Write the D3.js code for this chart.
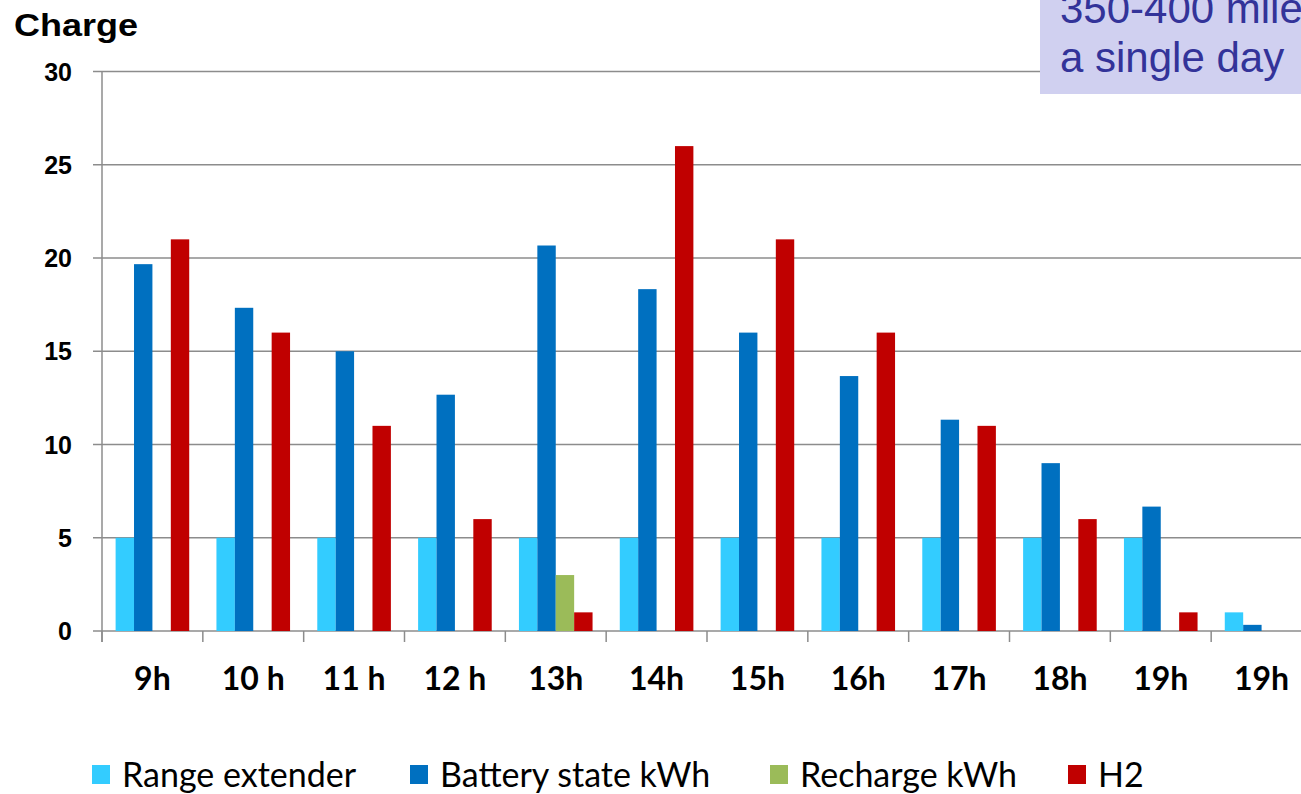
<!DOCTYPE html>
<html>
<head>
<meta charset="utf-8">
<script src="https://cdn.jsdelivr.net/npm/d3@7"></script>
<style>
  body { margin: 0; background: #fff; }
  svg { display: block; }
</style>
</head>
<body>
<svg id="chart" width="1301" height="794"></svg>
<script>
// chart data
var hours = ["9h", "10 h", "11 h", "12 h", "13h", "14h", "15h", "16h", "17h", "18h", "19h", "19h "];
var rangeExtender = [5, 5, 5, 5, 5, 5, 5, 5, 5, 5, 5, 1];
var batteryState = [19.67, 17.33, 15, 12.67, 20.67, 18.33, 16, 13.67, 11.33, 9, 6.67, 0.33];
var rechargeKwh = [0, 0, 0, 0, 3, 0, 0, 0, 0, 0, 0, 0];
var h2 = [21, 16, 11, 6, 1, 26, 21, 16, 11, 6, 1, 0];
var seriesNames = ["Range extender", "Battery state kWh", "Recharge kWh", "H2"];
var seriesColors = ["#33CCFF", "#0070C0", "#9BBB59", "#C00000"];
var yTicks = [0, 5, 10, 15, 20, 25, 30];

var svg = d3.select("#chart");
var plotLeft = 102, plotRight = 1312, plotTop = 71.5, plotBottom = 631;
var gridColor = "#8c8c8c";

var x0 = d3.scaleBand().domain(hours).range([plotLeft, plotRight])
		.paddingInner(0.27).paddingOuter(0.135);
var x1 = d3.scaleBand().domain(seriesNames).range([0, x0.bandwidth()]);
var y = d3.scaleLinear().domain([0, 30]).range([plotBottom, plotTop]);

// gridlines
svg.append("g").selectAll("line").data(yTicks).join("line")
	.attr("x1", plotLeft - 9).attr("x2", 1301)
	.attr("y1", d => y(d)).attr("y2", d => y(d))
	.attr("stroke", gridColor).attr("stroke-width", 1.5);

// y axis line
svg.append("line").attr("x1", plotLeft).attr("x2", plotLeft)
	.attr("y1", plotTop).attr("y2", plotBottom + 11)
	.attr("stroke", gridColor).attr("stroke-width", 1.5);

// category ticks
var step = x0.step();
svg.append("g").selectAll("line").data(d3.range(hours.length + 1)).join("line")
	.attr("x1", i => plotLeft + i * step).attr("x2", i => plotLeft + i * step)
	.attr("y1", plotBottom).attr("y2", plotBottom + 11)
	.attr("stroke", gridColor).attr("stroke-width", 1.5);

// bars
var all = [rangeExtender, batteryState, rechargeKwh, h2];
var groups = svg.append("g").selectAll("g").data(hours).join("g")
	.attr("transform", d => "translate(" + x0(d) + ",0)");
groups.selectAll("rect")
	.data((d, i) => seriesNames.map((s, k) => ({ s: s, v: all[k][i], c: seriesColors[k] })))
	.join("rect")
	.attr("x", d => x1(d.s))
	.attr("width", x1.bandwidth())
	.attr("y", d => y(d.v))
	.attr("height", d => plotBottom - y(d.v))
	.attr("fill", d => d.c);

// y tick labels
svg.append("g").selectAll("text").data(yTicks).join("text")
	.attr("x", 72).attr("y", d => y(d) + 9)
	.attr("text-anchor", "end")
	.attr("font-family", "Liberation Sans, Arial, sans-serif")
	.attr("font-weight", "bold").attr("font-size", 25)
	.text(d => d);

// x labels
svg.append("g").selectAll("text").data(hours).join("text")
	.attr("x", d => x0(d) + x0.bandwidth() / 2)
	.attr("y", 690)
	.attr("text-anchor", "middle")
	.attr("font-family", "Lato, Open Sans, sans-serif")
	.attr("font-weight", "bold").attr("font-size", 32)
	.text(d => d.trim());

// axis title
svg.append("text").attr("x", 14).attr("y", 36)
	.attr("font-family", "Liberation Sans, Arial, sans-serif")
	.attr("font-weight", "bold").attr("font-size", 31)
	.attr("textLength", 124).attr("lengthAdjust", "spacingAndGlyphs")
	.text("Charge");

// note box (cut off at the top right)
svg.append("rect").attr("x", 1040).attr("y", 0).attr("width", 261).attr("height", 94)
	.attr("fill", "#D0D0F0");
svg.append("text").attr("x", 1060).attr("y", 22.5)
	.attr("font-family", "Liberation Sans, Arial, sans-serif")
	.attr("font-size", 42).attr("fill", "#333399")
	.text("350-400 miles in");
svg.append("text").attr("x", 1060).attr("y", 72)
	.attr("font-family", "Liberation Sans, Arial, sans-serif")
	.attr("font-size", 42).attr("fill", "#333399")
	.text("a single day");

// legend
var legendX = [92, 410, 770, 1068];
var leg = svg.append("g").selectAll("g").data(seriesNames).join("g")
	.attr("transform", (d, i) => "translate(" + legendX[i] + ",0)");
leg.append("rect").attr("x", 0).attr("y", 765).attr("width", 18).attr("height", 19)
	.attr("fill", (d, i) => seriesColors[i]);
leg.append("text").attr("x", 30).attr("y", 787)
	.attr("font-family", "Lato, Open Sans, sans-serif")
	.attr("font-size", 34)
	.text(d => d);
</script>
</body>
</html>
